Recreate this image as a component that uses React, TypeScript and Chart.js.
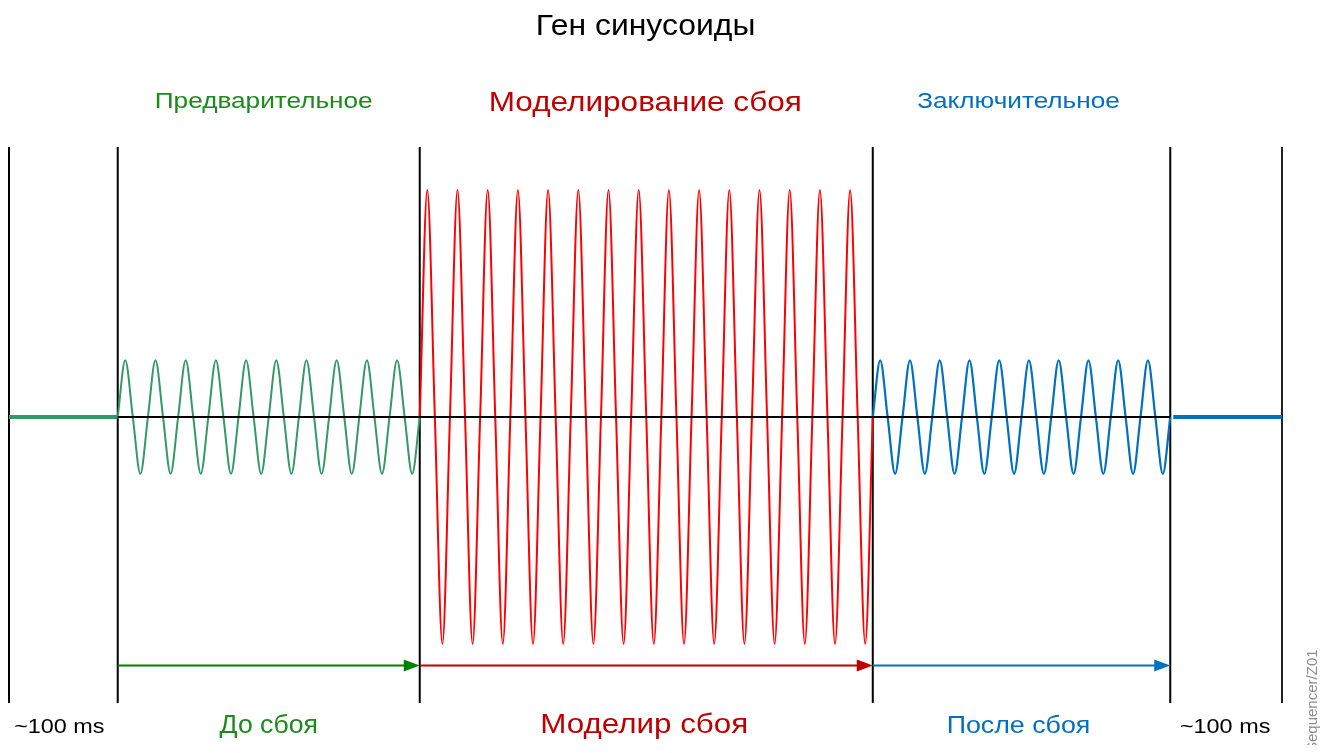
import React, { useEffect, useRef } from 'react';
import { Chart, registerables } from 'chart.js';

Chart.register(...registerables);

// ---- data ----
const chartTitle = 'Ген синусоиды';
// segment boundaries on the time axis (ms)
const segmentBounds = [0, 72, 272, 572, 769, 843];
// per-cycle peak amplitude (relative to fault amplitude)
const prePeaks = [0.25, 0.25, 0.25, 0.25, 0.25, 0.25, 0.25, 0.25, 0.25, 0.25];
const faultPeaks = [1.0, 1.0, 1.0, 1.0, 1.0, 1.0, 1.0, 1.0, 1.0, 1.0, 1.0, 1.0, 1.0, 1.0, 1.0];
const postPeaks = [0.25, 0.25, 0.25, 0.25, 0.25, 0.25, 0.25, 0.25, 0.25, 0.25];
const topLabels = ['', 'Предварительное', 'Моделирование сбоя', 'Заключительное', ''];
const bottomLabels = ['~100 ms', 'До сбоя', 'Моделир сбоя', 'После сбоя', '~100 ms'];
const arrowLevel = -1.095;
const sideNote = 'Sequencer/Z01';

// ---- styles ----
const GREEN_WAVE = '#339966';
const GREEN_TEXT = '#1a8c1a';
const GREEN_ARROW = '#008000';
const RED_WAVE = '#ff0000';
const RED_TEXT = '#c00000';
const BLUE = '#0070c0';
const FONT = '"Liberation Sans", Arial, sans-serif';

type TStyle = { color: string; size: number; sx: number; dy: number; dx: number };
const titleStyle: TStyle = { color: '#000000', size: 30, sx: 1.063, dy: -112, dx: 0 };
const topStyles: (TStyle | null)[] = [
  null,
  { color: GREEN_TEXT, size: 22, sx: 1.19, dy: -39, dx: -5 },
  { color: RED_TEXT, size: 28, sx: 1.126, dy: -36, dx: -1 },
  { color: BLUE, size: 22, sx: 1.19, dy: -39, dx: -3 },
  null,
];
const bottomStyles: TStyle[] = [
  { color: '#000000', size: 20, sx: 1.17, dy: 30, dx: -4 },
  { color: GREEN_TEXT, size: 25, sx: 1.065, dy: 30, dx: 0 },
  { color: RED_TEXT, size: 28, sx: 1.12, dy: 30, dx: -2 },
  { color: BLUE, size: 23, sx: 1.165, dy: 30, dx: -3 },
  { color: '#000000', size: 20, sx: 1.17, dy: 30, dx: -1 },
];
const arrowColors = [null, GREEN_ARROW, RED_TEXT, BLUE, null];

function buildWave(x0: number, x1: number, peaks: number[]) {
  const q = (x1 - x0) / (4 * peaks.length);
  const pts: { x: number; y: number }[] = [];
  peaks.forEach((p, i) => {
    const b = x0 + i * 4 * q;
    pts.push({ x: b, y: 0 }, { x: b + q, y: p }, { x: b + 2 * q, y: 0 }, { x: b + 3 * q, y: -p });
  });
  pts.push({ x: x1, y: 0 });
  return pts;
}

function drawText(ctx: CanvasRenderingContext2D, text: string, cx: number, by: number, st: TStyle) {
  ctx.save();
  ctx.translate(cx + st.dx, by);
  ctx.scale(st.sx, 1);
  ctx.fillStyle = st.color;
  ctx.font = `${st.size}px ${FONT}`;
  ctx.textAlign = 'center';
  ctx.textBaseline = 'alphabetic';
  ctx.fillText(text, 0, 0);
  ctx.restore();
}

const decorPlugin = {
  id: 'decor',
  beforeDatasetsDraw(chart: any) {
    const { ctx, chartArea, scales } = chart;
    const xs = scales.x;
    ctx.save();
    segmentBounds.forEach((b, i) => {
      const px = xs.getPixelForValue(b);
      ctx.strokeStyle = i === segmentBounds.length - 1 ? '#222222' : '#000000';
      ctx.lineWidth = 2;
      ctx.beginPath();
      ctx.moveTo(px, chartArea.top);
      ctx.lineTo(px, chartArea.bottom);
      ctx.stroke();
    });
    ctx.restore();
  },
  afterDatasetsDraw(chart: any) {
    const { ctx, chartArea, scales, width } = chart;
    const xs = scales.x;
    const ys = scales.y;
    ctx.save();
    // zero line
    const y0 = ys.getPixelForValue(0);
    ctx.strokeStyle = '#000000';
    ctx.lineWidth = 2;
    ctx.beginPath();
    ctx.moveTo(xs.getPixelForValue(segmentBounds[1]), y0);
    ctx.lineTo(xs.getPixelForValue(segmentBounds[4]), y0);
    ctx.stroke();

    // arrows
    const ay = ys.getPixelForValue(arrowLevel);
    for (let i = 1; i <= 3; i++) {
      const xa = xs.getPixelForValue(segmentBounds[i]);
      const xb = xs.getPixelForValue(segmentBounds[i + 1]);
      const c = arrowColors[i] as string;
      ctx.strokeStyle = c;
      ctx.fillStyle = c;
      ctx.lineWidth = 2;
      ctx.beginPath();
      ctx.moveTo(xa, ay);
      ctx.lineTo(xb - 14, ay);
      ctx.stroke();
      ctx.beginPath();
      ctx.moveTo(xb, ay);
      ctx.lineTo(xb - 16, ay - 6);
      ctx.lineTo(xb - 16, ay + 6);
      ctx.closePath();
      ctx.fill();
    }

    // texts
    const mid = (i: number) =>
      (xs.getPixelForValue(segmentBounds[i]) + xs.getPixelForValue(segmentBounds[i + 1])) / 2;

    drawText(
      ctx,
      chartTitle,
      (xs.getPixelForValue(segmentBounds[0]) + xs.getPixelForValue(segmentBounds[5])) / 2,
      chartArea.top + titleStyle.dy,
      titleStyle
    );
    topLabels.forEach((t, i) => {
      const st = topStyles[i];
      if (!t || !st) return;
      drawText(ctx, t, mid(i), chartArea.top + st.dy, st);
    });
    bottomLabels.forEach((t, i) => {
      const st = bottomStyles[i];
      drawText(ctx, t, mid(i), chartArea.bottom + st.dy, st);
    });

    // side note rotated
    ctx.save();
    ctx.translate(width - 4, chartArea.bottom + 49);
    ctx.rotate(-Math.PI / 2);
    ctx.textAlign = 'left';
    ctx.textBaseline = 'alphabetic';
    ctx.fillStyle = '#8c8c8c';
    ctx.font = `15px ${FONT}`;
    ctx.fillText(sideNote, 0, 0);
    ctx.restore();

    ctx.restore();
  },
};

export default function App() {
  const ref = useRef<HTMLCanvasElement | null>(null);
  useEffect(() => {
    if (!ref.current) return;
    const common = {
      pointRadius: 0,
      fill: false,
      cubicInterpolationMode: 'monotone' as const,
    };
    const chart = new Chart(ref.current, {
      type: 'line',
      data: {
        datasets: [
          {
            ...common,
            label: 'pre-flat',
            data: [
              { x: segmentBounds[0], y: 0 },
              { x: segmentBounds[1], y: 0 },
            ],
            borderColor: GREEN_WAVE,
            borderWidth: 4,
          },
          {
            ...common,
            label: 'pre',
            data: buildWave(segmentBounds[1], segmentBounds[2], prePeaks),
            borderColor: GREEN_WAVE,
            borderWidth: 2,
          },
          {
            ...common,
            label: 'fault',
            data: buildWave(segmentBounds[2], segmentBounds[3], faultPeaks),
            borderColor: RED_WAVE,
            borderWidth: 2,
          },
          {
            ...common,
            label: 'post',
            data: buildWave(segmentBounds[3], segmentBounds[4], postPeaks),
            borderColor: BLUE,
            borderWidth: 2.2,
          },
          {
            ...common,
            label: 'post-flat',
            data: [
              { x: segmentBounds[4] + 2, y: 0 },
              { x: segmentBounds[5], y: 0 },
            ],
            borderColor: BLUE,
            borderWidth: 4,
          },
        ],
      },
      options: {
        responsive: true,
        maintainAspectRatio: false,
        animation: false,
        parsing: false as any,
        layout: { padding: { left: 1, right: 39, top: 139, bottom: 42 } },
        plugins: {
          legend: { display: false },
          tooltip: { enabled: false },
          title: { display: false },
        },
        scales: {
          x: { type: 'linear', min: segmentBounds[0], max: segmentBounds[5], display: false },
          y: { type: 'linear', min: -1.26, max: 1.19, display: false },
        },
        elements: { line: { borderCapStyle: 'butt' } },
      },
      plugins: [decorPlugin],
    });
    return () => chart.destroy();
  }, []);
  return (
    <div style={{ position: 'relative', width: '100%', height: '737px' }}>
      <canvas ref={ref} />
    </div>
  );
}
